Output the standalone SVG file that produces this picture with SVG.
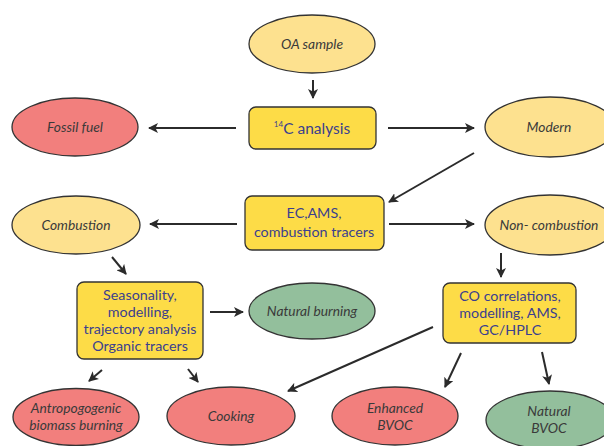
<svg xmlns="http://www.w3.org/2000/svg" width="604" height="446" viewBox="0 0 604 446">
<defs>
<marker id="ah" viewBox="0 0 10 10" refX="9" refY="5" markerWidth="5" markerHeight="5" orient="auto" markerUnits="strokeWidth">
<path d="M0,0 L10,5 L0,10 L2.5,5 z" fill="#2b2b2b"/>
</marker>
</defs>
<style>
.lt{fill:#fde18f;stroke:#333;stroke-width:1.3}
.red{fill:#f27f7d;stroke:#333;stroke-width:1.3}
.grn{fill:#93bf9c;stroke:#333;stroke-width:1.3}
.box{fill:#fddc47;stroke:#333;stroke-width:1.3}
.et{font-family:Lato,"Open Sans",sans-serif;font-style:italic;font-size:13.8px;fill:#3a3a3a;text-anchor:middle}
.bt{font-family:Lato,"Open Sans",sans-serif;font-size:14.3px;fill:#3b3f8e;text-anchor:middle}
.c{stroke:#2b2b2b;stroke-width:2;fill:none;marker-end:url(#ah)}
</style>
<rect width="604" height="446" fill="#fff"/>
<g id="connectors">
<line class="c" x1="313" y1="80" x2="313" y2="98"/>
<line class="c" x1="236" y1="128" x2="149" y2="128"/>
<line class="c" x1="388" y1="128" x2="474" y2="128"/>
<line class="c" x1="474" y1="153" x2="389" y2="202"/>
<line class="c" x1="237" y1="224" x2="150" y2="224"/>
<line class="c" x1="389" y1="224" x2="474" y2="224"/>
<line class="c" x1="112" y1="257" x2="126" y2="274"/>
<line class="c" x1="210" y1="312" x2="243" y2="312"/>
<line class="c" x1="501" y1="253" x2="501" y2="277"/>
<line class="c" x1="433" y1="327" x2="288" y2="391"/>
<line class="c" x1="461" y1="353" x2="445" y2="387"/>
<line class="c" x1="542" y1="352" x2="549" y2="384"/>
<line class="c" x1="102" y1="370" x2="89" y2="381"/>
<line class="c" x1="188" y1="369" x2="198" y2="382"/>
</g>
<g id="oa-sample"><ellipse class="lt" cx="312" cy="44" rx="63" ry="29"/><text class="et" x="312" y="49">OA sample</text></g>
<g id="c14-analysis"><rect class="box" x="249" y="107" width="127" height="42" rx="7"/><text class="bt" x="312" y="134" style="font-size:15.5px"><tspan font-size="8" dy="-7">14</tspan><tspan dy="7">C analysis</tspan></text></g>
<g id="fossil-fuel"><ellipse class="red" cx="75" cy="127" rx="63" ry="29"/><text class="et" x="75" y="132">Fossil fuel</text></g>
<g id="modern"><ellipse class="lt" cx="550" cy="127" rx="65" ry="30"/><text class="et" x="549" y="132">Modern</text></g>
<g id="ec-ams"><rect class="box" x="245" y="196" width="139" height="54" rx="7"/><text class="bt" x="314" y="218">EC,AMS,</text><text class="bt" x="314" y="237">combustion tracers</text></g>
<g id="combustion"><ellipse class="lt" cx="76" cy="225" rx="64" ry="29"/><text class="et" x="76" y="230">Combustion</text></g>
<g id="non-combustion"><ellipse class="lt" cx="550" cy="225" rx="65" ry="30"/><text class="et" x="549" y="230">Non- combustion</text></g>
<g id="seasonality"><rect class="box" x="77" y="282" width="126" height="77" rx="7"/><text class="bt" x="140" y="300">Seasonality,</text><text class="bt" x="140" y="317">modelling,</text><text class="bt" x="140" y="334">trajectory analysis</text><text class="bt" x="140" y="351">Organic tracers</text></g>
<g id="natural-burning"><ellipse class="grn" cx="312" cy="311" rx="63" ry="28"/><text class="et" x="312" y="316">Natural burning</text></g>
<g id="co-correlations"><rect class="box" x="443" y="283" width="133" height="60" rx="7"/><text class="bt" x="510" y="301">CO correlations,</text><text class="bt" x="510" y="318">modelling, AMS,</text><text class="bt" x="510" y="335">GC/HPLC</text></g>
<g id="antropogogenic"><ellipse class="red" cx="76" cy="417" rx="63" ry="28.5"/><text class="et" x="76" y="413">Antropogogenic</text><text class="et" x="76" y="430">biomass burning</text></g>
<g id="cooking"><ellipse class="red" cx="231" cy="416" rx="64" ry="29"/><text class="et" x="231" y="421">Cooking</text></g>
<g id="enhanced-bvoc"><ellipse class="red" cx="395" cy="416" rx="63" ry="29"/><text class="et" x="395" y="413">Enhanced</text><text class="et" x="395" y="430">BVOC</text></g>
<g id="natural-bvoc"><ellipse class="grn" cx="550" cy="420" rx="64" ry="29"/><text class="et" x="549" y="416">Natural</text><text class="et" x="549" y="433">BVOC</text></g>
</svg>
